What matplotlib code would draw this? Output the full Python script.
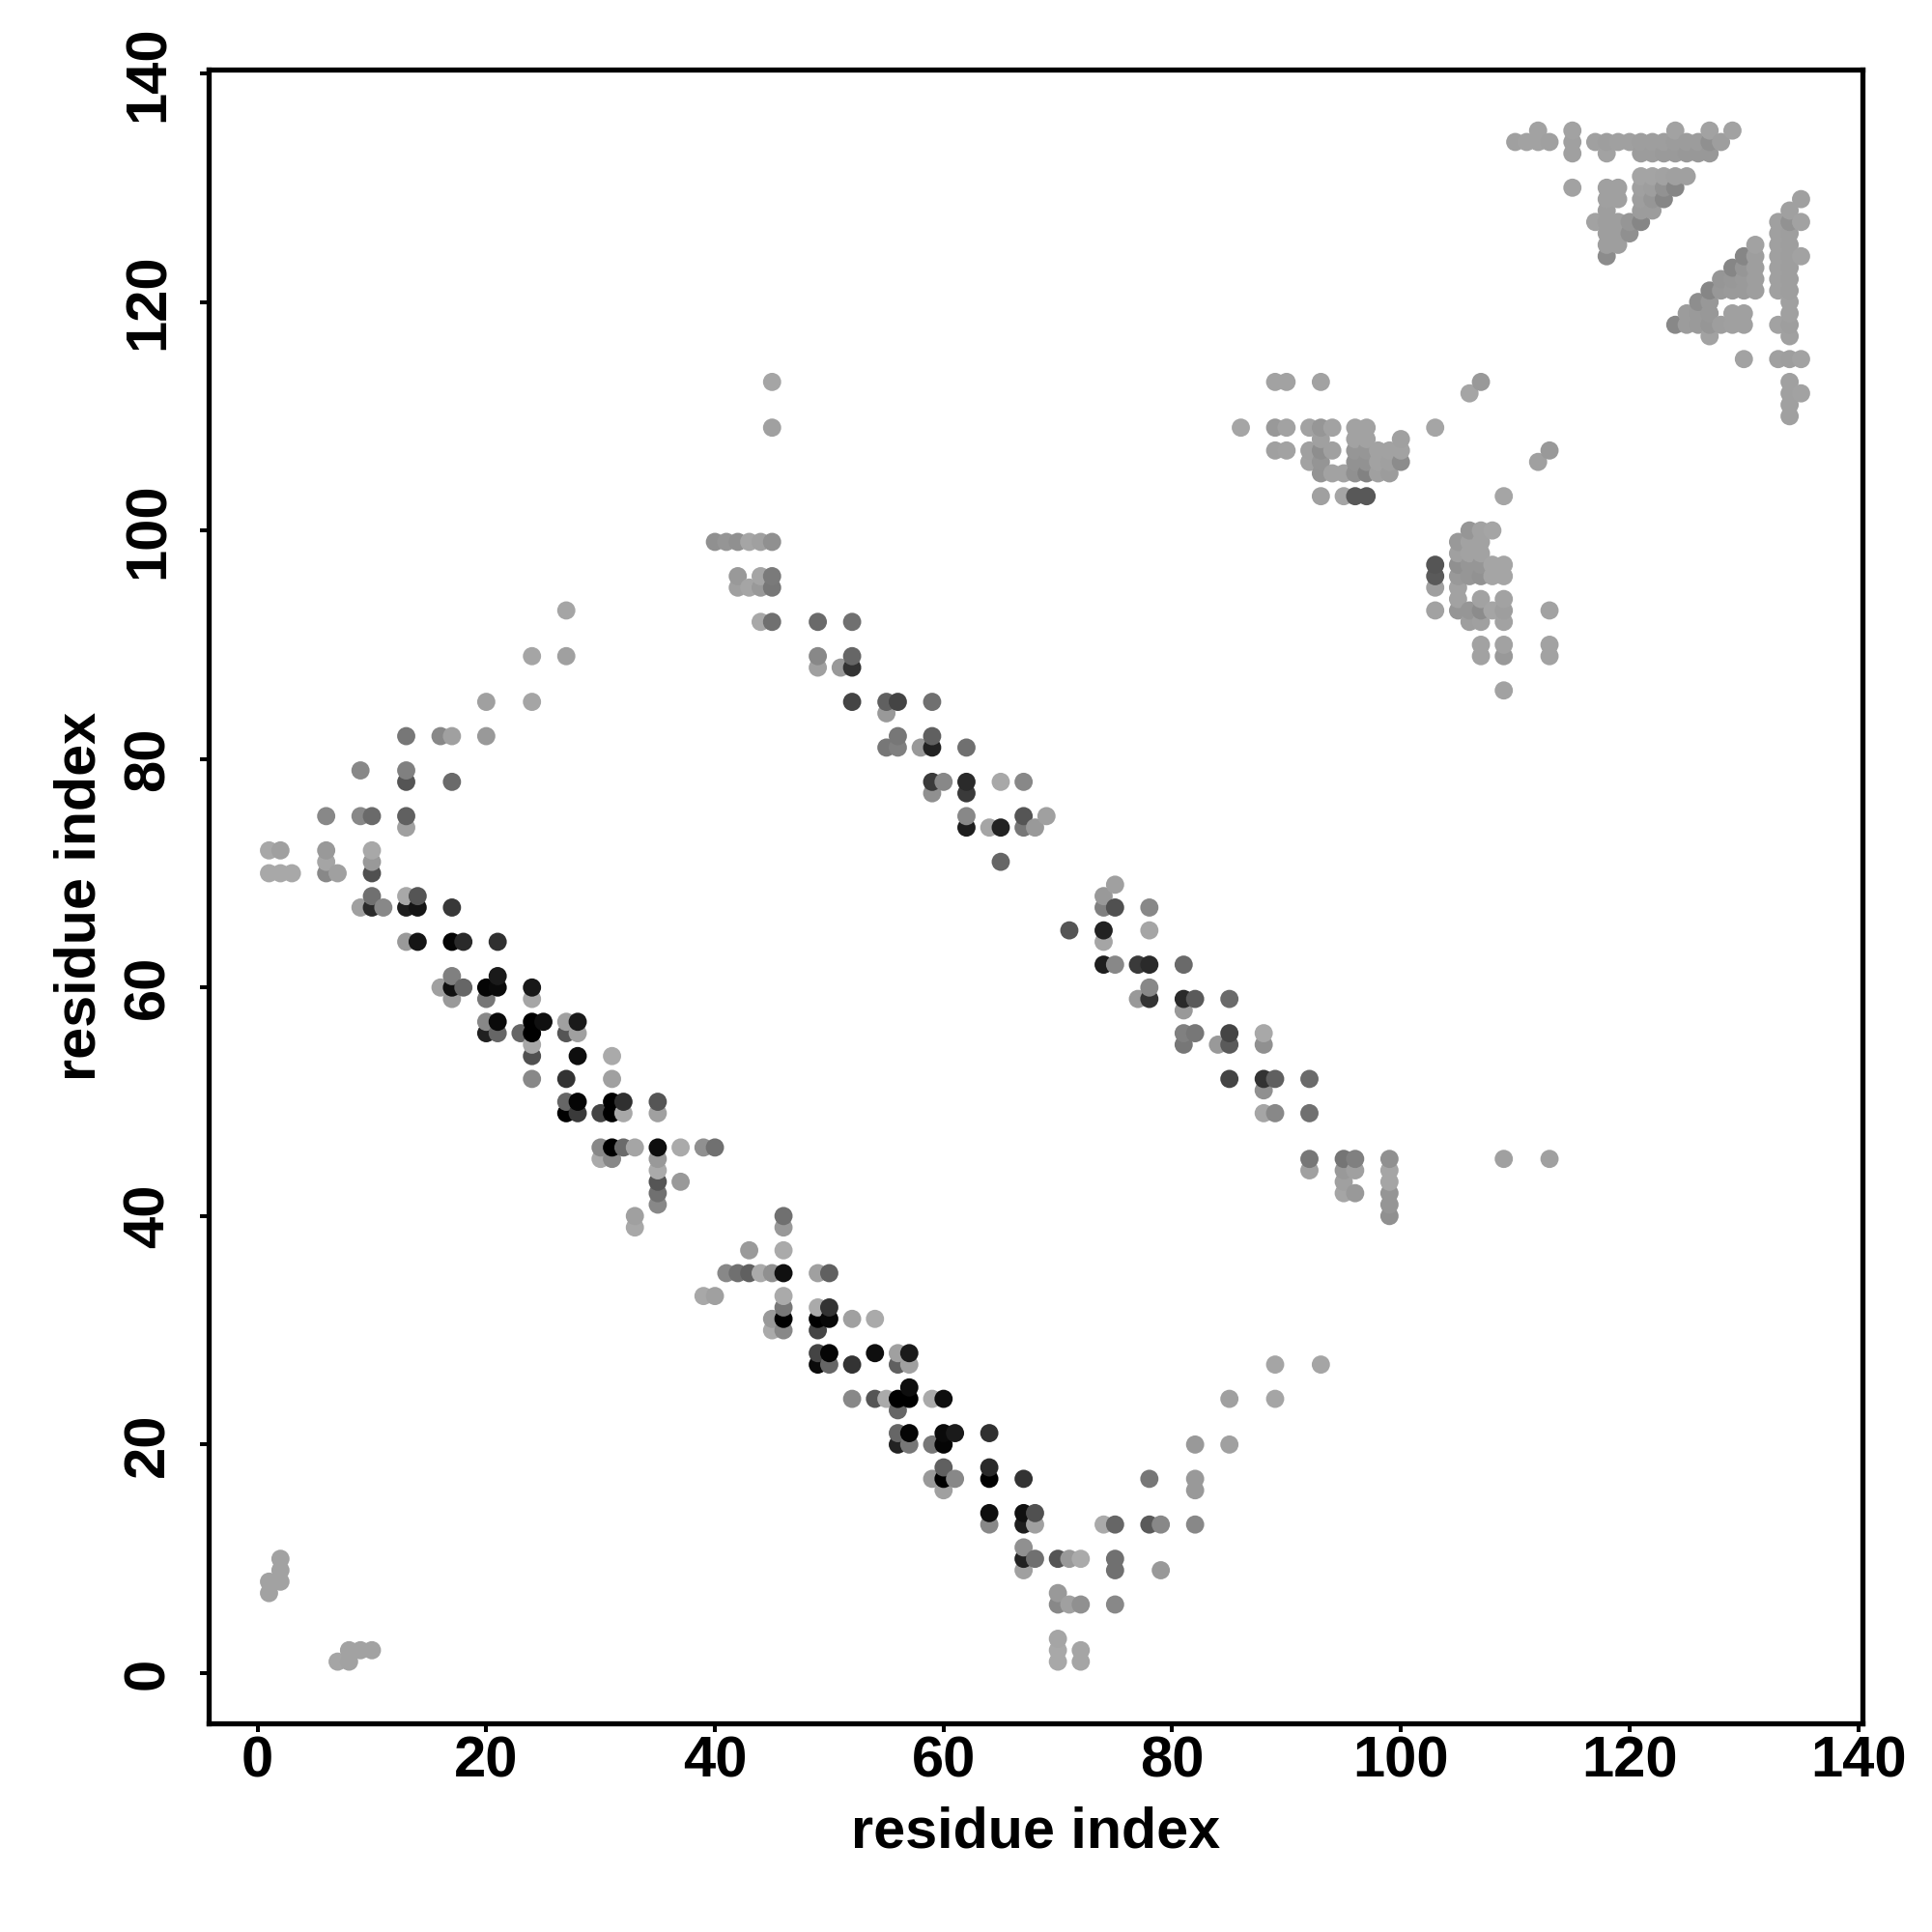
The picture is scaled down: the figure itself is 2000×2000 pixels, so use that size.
import matplotlib
matplotlib.use("Agg")
import matplotlib.pyplot as plt

plt.rcParams['font.family'] = ['Liberation Sans', 'DejaVu Sans']
plt.rcParams['font.weight'] = 'bold'

# one entry per row of the map: row_j is the y residue,
# row_i the x residues in that row, row_grey their grey level (0-255)
row_j = [135, 134, 133, 131, 130, 129, 128, 127, 126, 125,
         124, 123, 122, 121, 120, 119, 118, 117, 115, 113,
         112, 111, 110, 109, 108, 107, 106, 105, 103, 100,
         99, 98, 97, 96, 95, 94, 93, 92, 90, 89,
         88, 86, 85, 84, 82, 81, 79, 78, 77, 75,
         74, 72, 71, 70, 69, 68, 67, 65, 64, 62,
         61, 60, 59, 58, 57, 56, 55, 54, 52, 51,
         50, 49, 46, 45, 44, 43, 42, 41, 40, 39,
         37, 35, 33, 32, 31, 30, 28, 27, 25, 24,
         23, 21, 20, 18, 17, 16, 14, 13, 11, 10,
         9, 8, 7, 6, 3, 2, 1]

row_i = [
    [112, 115, 124, 127, 129],
    [110, 111, 112, 113, 115, 117, 118, 119, 120, 121, 122, 123, 124, 125, 126, 127, 128],
    [115, 118, 121, 122, 123, 124, 125, 126, 127],
    [121, 122, 123, 124, 125],
    [115, 118, 119, 121, 122, 123, 124],
    [118, 119, 121, 122, 123, 135],
    [118, 121, 122, 134],
    [117, 118, 119, 120, 121, 133, 134, 135],
    [118, 119, 120, 133, 134],
    [118, 119, 131, 133, 134],
    [118, 130, 131, 133, 134, 135],
    [129, 130, 131, 133, 134],
    [128, 129, 130, 131, 133, 134],
    [127, 128, 129, 130, 131, 133, 134],
    [126, 127, 134],
    [125, 126, 127, 129, 130, 134],
    [124, 125, 126, 127, 128, 129, 130, 133, 134],
    [127, 134],
    [130, 133, 134, 135],
    [45, 89, 90, 93, 107, 134],
    [106, 134, 135],
    [134],
    [134],
    [45, 86, 89, 90, 92, 93, 94, 96, 97, 103],
    [93, 96, 97, 100],
    [89, 90, 92, 93, 94, 96, 97, 98, 99, 100, 113],
    [92, 93, 96, 97, 98, 99, 100, 112],
    [93, 94, 95, 96, 97, 98, 99],
    [93, 95, 96, 97, 109],
    [106, 107, 108],
    [40, 41, 42, 43, 44, 45, 105, 106, 107],
    [105, 106, 107],
    [103, 105, 106, 107, 108, 109],
    [42, 44, 45, 103, 105, 106, 107, 108, 109],
    [42, 43, 44, 45, 103, 105],
    [105, 107, 109],
    [27, 103, 105, 106, 107, 108, 109, 113],
    [44, 45, 49, 52, 106, 107, 109],
    [107, 109, 113],
    [24, 27, 49, 52, 107, 109, 113],
    [49, 51, 52],
    [109],
    [20, 24, 52, 55, 56, 59],
    [55],
    [13, 16, 17, 20, 56, 59],
    [55, 56, 58, 59, 62],
    [9, 13],
    [13, 17, 59, 60, 62, 65, 67],
    [59, 62],
    [6, 9, 10, 13, 62, 67, 69],
    [13, 62, 64, 65, 67, 68],
    [1, 2, 6, 10],
    [6, 10, 65],
    [1, 2, 3, 6, 7, 10],
    [75],
    [10, 13, 14, 74],
    [9, 10, 11, 13, 14, 17, 74, 75, 78],
    [71, 74, 78],
    [13, 14, 17, 18, 21, 74],
    [74, 75, 77, 78, 81],
    [17, 21],
    [16, 17, 18, 20, 21, 24, 78],
    [17, 20, 24, 77, 78, 81, 82, 85],
    [81],
    [20, 21, 24, 25, 27, 28],
    [20, 21, 23, 24, 27, 28, 81, 82, 85, 88],
    [24, 81, 84, 85, 88],
    [24, 28, 31],
    [24, 27, 31, 85, 88, 89, 92],
    [88],
    [27, 28, 31, 32, 35],
    [27, 28, 30, 31, 32, 35, 88, 89, 92],
    [30, 31, 32, 33, 35, 37, 39, 40],
    [30, 31, 35, 92, 95, 96, 99, 109, 113],
    [35, 92, 95, 96, 99],
    [35, 37, 95, 99],
    [35, 95, 96, 99],
    [35, 99],
    [33, 46, 99],
    [33, 46],
    [43, 46],
    [41, 42, 43, 44, 45, 46, 49, 50],
    [39, 40, 46],
    [46, 49, 50],
    [45, 46, 49, 50, 52, 54],
    [45, 46, 49],
    [49, 50, 54, 56, 57],
    [49, 50, 52, 56, 57, 89, 93],
    [57],
    [52, 54, 55, 56, 57, 59, 60, 85, 89],
    [56],
    [56, 57, 60, 61, 64],
    [56, 57, 59, 60, 82, 85],
    [60, 64],
    [59, 60, 61, 64, 67, 78, 82],
    [60, 82],
    [64, 67, 68],
    [64, 67, 68, 74, 75, 78, 79, 82],
    [67],
    [2, 67, 68, 70, 71, 72, 75],
    [2, 67, 75, 79],
    [1, 2],
    [1, 70],
    [70, 71, 72, 75],
    [70],
    [8, 9, 10, 70, 72],
    [7, 8, 70, 72],
]

row_grey = [
    [162, 162, 162, 162, 162],
    [160, 162, 162, 160, 160, 160, 158, 160, 160, 158, 158, 158, 156, 156, 156, 144, 158],
    [160, 162, 156, 156, 154, 154, 152, 152, 152],
    [164, 164, 162, 160, 160],
    [162, 160, 160, 160, 158, 146, 134],
    [160, 160, 158, 150, 134, 160],
    [158, 156, 156, 160],
    [162, 158, 158, 150, 134, 160, 146, 162],
    [158, 158, 144, 160, 158],
    [158, 158, 162, 160, 158],
    [140, 134, 158, 160, 158, 162],
    [134, 150, 158, 160, 158],
    [150, 152, 154, 158, 160, 158],
    [134, 152, 154, 154, 158, 160, 158],
    [142, 152, 160],
    [156, 154, 152, 160, 160, 160],
    [136, 156, 154, 150, 158, 160, 160, 162, 158],
    [162, 160],
    [162, 160, 158, 162],
    [165, 162, 162, 162, 153, 160],
    [165, 160, 162],
    [160],
    [160],
    [160, 165, 153, 162, 162, 150, 162, 162, 162, 165],
    [160, 162, 162, 160],
    [160, 162, 160, 142, 160, 150, 150, 162, 162, 162, 153],
    [162, 149, 146, 146, 162, 160, 140, 160],
    [148, 162, 162, 144, 130, 160, 156],
    [160, 165, 88, 88, 165],
    [150, 162, 165],
    [144, 149, 144, 165, 160, 144, 153, 162, 162],
    [160, 162, 162],
    [85, 144, 150, 150, 165, 165],
    [153, 165, 122, 90, 153, 150, 146, 165, 165],
    [160, 165, 153, 119, 160, 162],
    [162, 162, 162],
    [165, 162, 150, 150, 140, 165, 158, 162],
    [168, 112, 106, 112, 158, 160, 162],
    [162, 162, 162],
    [165, 160, 136, 102, 162, 153, 162],
    [160, 153, 51],
    [162],
    [160, 165, 68, 96, 68, 112],
    [153],
    [119, 136, 160, 153, 119, 96],
    [119, 128, 153, 34, 112],
    [136, 128],
    [85, 106, 58, 136, 42, 168, 136],
    [144, 58],
    [136, 136, 106, 96, 136, 85, 160],
    [160, 30, 165, 34, 119, 153],
    [168, 160, 153, 168],
    [165, 153, 102],
    [168, 168, 168, 136, 160, 80],
    [160],
    [112, 168, 85, 153],
    [160, 42, 136, 30, 21, 56, 128, 80, 136],
    [85, 34, 165],
    [153, 21, 5, 42, 48, 165],
    [30, 136, 58, 42, 106],
    [128, 26],
    [160, 16, 102, 5, 10, 24, 136],
    [153, 119, 165, 153, 51, 42, 90, 106],
    [153],
    [136, 10, 0, 16, 160, 26],
    [32, 102, 102, 0, 85, 160, 128, 119, 68, 168],
    [168, 119, 153, 90, 144],
    [80, 14, 170],
    [136, 51, 160, 68, 51, 96, 106],
    [144],
    [102, 5, 0, 48, 85],
    [0, 58, 68, 0, 168, 160, 165, 136, 112],
    [136, 0, 106, 165, 14, 170, 144, 112],
    [170, 136, 153, 119, 117, 128, 144, 160, 160],
    [170, 160, 153, 160, 165],
    [85, 153, 160, 165],
    [112, 165, 153, 149],
    [136, 149],
    [160, 112, 144],
    [168, 153],
    [154, 170],
    [136, 112, 96, 170, 144, 16, 160, 96],
    [168, 160, 170],
    [119, 170, 51],
    [153, 0, 0, 8, 160, 170],
    [170, 136, 68],
    [68, 5, 14, 160, 26],
    [10, 102, 51, 96, 160, 165, 165],
    [14],
    [136, 85, 170, 0, 0, 170, 14, 160, 165],
    [102],
    [102, 5, 10, 26, 48],
    [34, 119, 119, 5, 153, 160],
    [96, 42],
    [153, 0, 136, 0, 51, 119, 153],
    [160, 153],
    [14, 16, 80],
    [136, 30, 160, 170, 102, 90, 136, 136],
    [144],
    [162, 34, 112, 85, 153, 170, 112],
    [162, 160, 112, 153],
    [162, 162],
    [162, 153],
    [136, 160, 144, 136],
    [165],
    [162, 162, 162, 168, 165],
    [165, 162, 168, 165],
]

tick_values = [0, 20, 40, 60, 80, 100, 120, 140]
axis_title = "residue index"

xs, ys, greys = [], [], []
for j, i_list, g_list in zip(row_j, row_i, row_grey):
    for i, g in zip(i_list, g_list):
        xs.append(i)
        ys.append(j)
        greys.append(g / 255)

# later points sit on top: x ascending, then y ascending
order = sorted(range(len(xs)), key=lambda k: (xs[k], ys[k]))
xs = [xs[k] for k in order]
ys = [ys[k] for k in order]
colors = [str(greys[k]) for k in order]

fig = plt.figure(figsize=(10, 10), dpi=200)
ax = fig.add_axes([216 / 2000, 1 - 1784 / 2000, 1712 / 2000, 1712 / 2000])
ax.scatter(xs, ys, s=46, c=colors, linewidths=0)

ax.set_xlim(-4.28, 140.37)
ax.set_ylim(-4.40, 140.34)
ax.set_xticks(tick_values)
ax.set_yticks(tick_values)
ax.tick_params(width=1.45, length=3.1, labelsize=21.5)
ax.tick_params(axis='x', pad=16.8)
ax.tick_params(axis='y', pad=13.6)
for label in ax.get_xticklabels():
    label.set_va('baseline')
for label in ax.get_yticklabels():
    label.set_rotation(90)
    label.set_rotation_mode('anchor')
    label.set_ha('center')
    label.set_va('baseline')
for spine in ax.spines.values():
    spine.set_linewidth(1.9)

ax.set_xlabel(axis_title, fontsize=21.4, fontweight='bold', va='baseline')
ax.set_ylabel(axis_title, fontsize=21.4, fontweight='bold', rotation_mode='anchor',
              ha='center', va='baseline')
ax.xaxis.set_label_coords(0.5, -0.0748)
ax.yaxis.set_label_coords(-0.0689, 0.5)

fig.savefig("out.png", dpi=200)
